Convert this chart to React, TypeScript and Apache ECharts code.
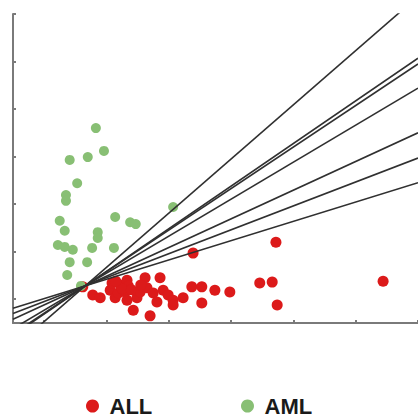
import React, { useRef, useEffect } from "react";
import * as echarts from "echarts";

// ALL samples (red)
const allX = [1.12, 1.28, 1.40, 1.56, 1.59, 1.64, 1.69, 1.72, 1.80, 1.83, 1.85, 1.83, 1.93, 1.99, 2.04, 2.12, 2.15, 2.20, 2.25, 2.31, 2.36, 2.41, 2.49, 2.57, 2.57, 2.73, 2.87, 2.89, 3.03, 3.03, 3.24, 3.48, 3.96, 4.16, 4.22, 4.24, 5.94, 1.75, 1.65, 1.90, 2.05];
const allY = [0.76, 0.59, 0.53, 0.69, 0.84, 0.53, 0.63, 0.80, 0.65, 0.90, 0.78, 0.48, 0.27, 0.53, 0.65, 0.95, 0.74, 0.15, 0.63, 0.44, 0.95, 0.69, 0.59, 0.48, 0.38, 0.53, 0.76, 1.47, 0.76, 0.42, 0.69, 0.65, 0.84, 0.86, 1.70, 0.38, 0.88, 0.72, 0.88, 0.70, 0.80];

// AML samples (green)
const amlX = [1.33, 1.46, 1.20, 0.91, 1.03, 0.85, 0.85, 2.57, 1.64, 1.88, 1.97, 0.75, 0.83, 1.36, 1.36, 0.72, 0.83, 0.96, 1.27, 1.62, 0.91, 1.19, 0.87, 1.09];
const amlY = [4.10, 3.62, 3.49, 3.43, 2.94, 2.69, 2.57, 2.44, 2.23, 2.12, 2.08, 2.15, 1.94, 1.91, 1.79, 1.64, 1.60, 1.54, 1.58, 1.58, 1.28, 1.28, 1.01, 0.78];

// Decision boundaries: y at x = 0 and y at x = 6.5
const lineX = [0, 6.5];
const boundaryLeft = [-0.54, -0.26, -0.23, -0.12, 0.08, 0.2, 0.31];
const boundaryRight = [6.87, 5.57, 5.45, 4.94, 4.0, 3.47, 2.95];

const xTicks = [0.5, 1.5, 2.5, 3.5, 4.5, 5.5, 6.5];
const yTicks = [0.5, 1.5, 2.5, 3.5, 4.5, 5.5, 6.5];

const seriesNames = ["ALL", "AML"];

export default function App() {
  const ref = useRef<HTMLDivElement>(null);
  useEffect(() => {
    if (!ref.current) return;
    const chart = echarts.init(ref.current, null, { renderer: "svg" });
    const axisColor = "#7a7a7a";
    const lineSeries = boundaryLeft.map((l, i) => ({
      type: "line",
      name: "b" + i,
      data: [
        [lineX[0], l],
        [lineX[1], boundaryRight[i]],
      ],
      symbol: "none",
      clip: true,
      lineStyle: { color: "#303030", width: 1.6 },
      z: 3,
    }));
    const legendBase = {
      top: 389,
      itemWidth: 24,
      itemHeight: 13,
      icon: "circle",
      textStyle: {
        fontSize: 22,
        lineHeight: 24,
        fontWeight: "bold",
        color: "#1a1a1a",
        fontFamily: "Liberation Sans, Arial, sans-serif",
      },
    };
    chart.setOption({
      animation: false,
      grid: { left: 13, right: 0, top: 14, bottom: 95 },
      xAxis: {
        type: "value",
        min: 0,
        max: 6.5,
        axisLine: { show: true, lineStyle: { color: axisColor, width: 2 } },
        axisTick: {
          show: true,
          inside: true,
          length: 3,
          customValues: xTicks,
          lineStyle: { color: axisColor, width: 2 },
        },
        axisLabel: { show: false },
        splitLine: { show: false },
      },
      yAxis: {
        type: "value",
        min: 0,
        max: 6.5,
        axisLine: { show: true, lineStyle: { color: axisColor, width: 2 } },
        axisTick: {
          show: true,
          inside: true,
          length: 3,
          customValues: yTicks,
          lineStyle: { color: axisColor, width: 2 },
        },
        axisLabel: { show: false },
        splitLine: { show: false },
      },
      legend: [
        { ...legendBase, left: 81, data: [seriesNames[0]] },
        { ...legendBase, left: 236, data: [seriesNames[1]] },
      ],
      series: [
        {
          type: "scatter",
          name: seriesNames[0],
          data: allX.map((x, i) => [x, allY[i]]),
          symbolSize: 11,
          itemStyle: { color: "#dc1a1a", opacity: 1 },
          z: 2,
        },
        {
          type: "scatter",
          name: seriesNames[1],
          data: amlX.map((x, i) => [x, amlY[i]]),
          symbolSize: 10,
          itemStyle: { color: "#88bf74", opacity: 1 },
          z: 2,
        },
        ...lineSeries,
      ],
    });
    return () => chart.dispose();
  }, []);
  return (
    <div
      ref={ref}
      style={{ position: "absolute", left: 0, top: 0, width: 418, height: 418, background: "#fff" }}
    />
  );
}
